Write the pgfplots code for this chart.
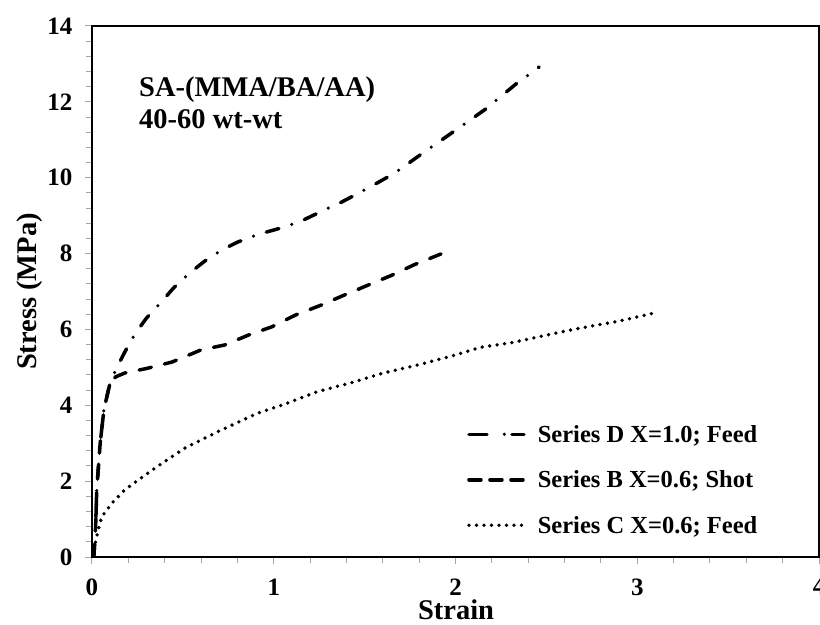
\documentclass[border=0pt]{standalone}
\usepackage{pgfplots}
\pgfplotsset{compat=1.18}
\usepackage{fontspec}
\setmainfont{Liberation Serif}
\begin{document}
\begin{tikzpicture}
\begin{axis}[
  scale only axis,
  width=727pt, height=531pt,
  xmin=0, xmax=4, ymin=0, ymax=14,
  xtick={0,1,2,3,4}, ytick={0,2,4,6,8,10,12,14},
  minor x tick num=4, minor y tick num=4,
  tick align=outside, tick pos=left,
  major tick length=7pt, minor tick length=6pt,
  tick style={gray!70, line width=1pt},
  axis line style={black, line width=2.5pt},
  /pgf/number format/assume math mode=true,
  ticklabel style={font=\fontsize{25}{25}\selectfont\bfseries},
  xticklabel style={yshift=-11pt},
  yticklabel style={xshift=-9pt},
  xlabel={Strain}, ylabel={Stress (MPa)},
  label style={font=\fontsize{28.5}{28.5}\selectfont\bfseries},
  xlabel style={at={(rel axis cs:0.5007,-0.0998)}, anchor=center},
  ylabel style={at={(rel axis cs:-0.0853,0.5)}, anchor=center, rotate=0},
  legend style={at={(rel axis cs:0.5115,0.2565)}, anchor=north west, draw=none, fill=none,
    font=\fontsize{24.5}{24.5}\selectfont\bfseries, row sep=23pt},
  legend cell align=left,
  legend image code/.code={\draw[#1] (0pt,0pt) -- (55pt,0pt); \path (65pt,0pt);},
]
\addplot[black, line width=3.5pt, line cap=round, dash pattern=on 13pt off 13.5pt on 0pt off 13.5pt,
  legend image code/.code={\draw[black, line width=3.5pt, line cap=round, dash pattern=on 18pt off 17.5pt on 0pt off 7.5pt] (0pt,0pt) -- (55pt,0pt); \path (65pt,0pt);}] coordinates {
(0.01,0) (0.02,0.8) (0.026,1.77) (0.045,3.0) (0.066,3.9) (0.10,4.6) (0.13,4.93) (0.18,5.4) (0.236,5.88) (0.30,6.3) (0.379,6.71) (0.45,7.1) (0.535,7.48) (0.62,7.8) (0.712,8.09) (0.80,8.3) (0.91,8.5) (1.066,8.71) (1.17,8.9) (1.27,9.13) (1.37,9.35) (1.47,9.6) (1.565,9.85) (1.665,10.12) (1.82,10.65) (1.976,11.17) (2.16,11.79) (2.33,12.46) (2.46,12.92)
};
\addlegendentry{Series D X=1.0; Feed}
\addplot[black, line width=3.5pt, line cap=round, dash pattern=on 12.5pt off 13.5pt,
  legend image code/.code={\draw[black, line width=3.5pt, line cap=round, dash pattern=on 12pt off 9pt] (0pt,0pt) -- (55pt,0pt); \path (65pt,0pt);}] coordinates {
(0.01,0) (0.02,0.8) (0.026,1.77) (0.045,3.0) (0.066,3.9) (0.099,4.58) (0.13,4.75) (0.18,4.85) (0.30,4.97) (0.44,5.14) (0.60,5.46) (0.73,5.59) (0.86,5.85) (0.99,6.07) (1.12,6.38) (1.26,6.64) (1.39,6.91) (1.52,7.17) (1.65,7.43) (1.77,7.70) (1.92,7.99)
};
\addlegendentry{Series B X=0.6; Shot}
\addplot[black, line width=3.8pt, line cap=round, dash pattern=on 0pt off 7.5pt] coordinates {
(0.005,0) (0.015,0.3) (0.026,0.54) (0.053,1.06) (0.108,1.41) (0.18,1.77) (0.33,2.29) (0.51,2.87) (0.69,3.3) (0.91,3.79) (1.06,4.03) (1.24,4.36) (1.43,4.6) (1.61,4.86) (1.79,5.06) (1.98,5.3) (2.14,5.53) (2.31,5.65) (2.50,5.85) (2.68,6.03) (2.90,6.22) (3.10,6.44)
};
\addlegendentry{Series C X=0.6; Feed}
\node[anchor=base west, inner sep=0pt, font=\fontsize{28.5}{31}\selectfont\bfseries] at (axis cs:0.2586,12.154) {SA-(MMA/BA/AA)};
\node[anchor=base west, inner sep=0pt, font=\fontsize{28.5}{31}\selectfont\bfseries] at (axis cs:0.2586,11.31) {40-60 wt-wt};
\coordinate (O) at (rel axis cs:0,0);
\coordinate (T) at (rel axis cs:1,1);
\end{axis}
\pgfresetboundingbox
\path[use as bounding box] ([shift={(-92pt,-67pt)}]O) rectangle ([shift={(1pt,26pt)}]T);
\end{tikzpicture}
\end{document}
